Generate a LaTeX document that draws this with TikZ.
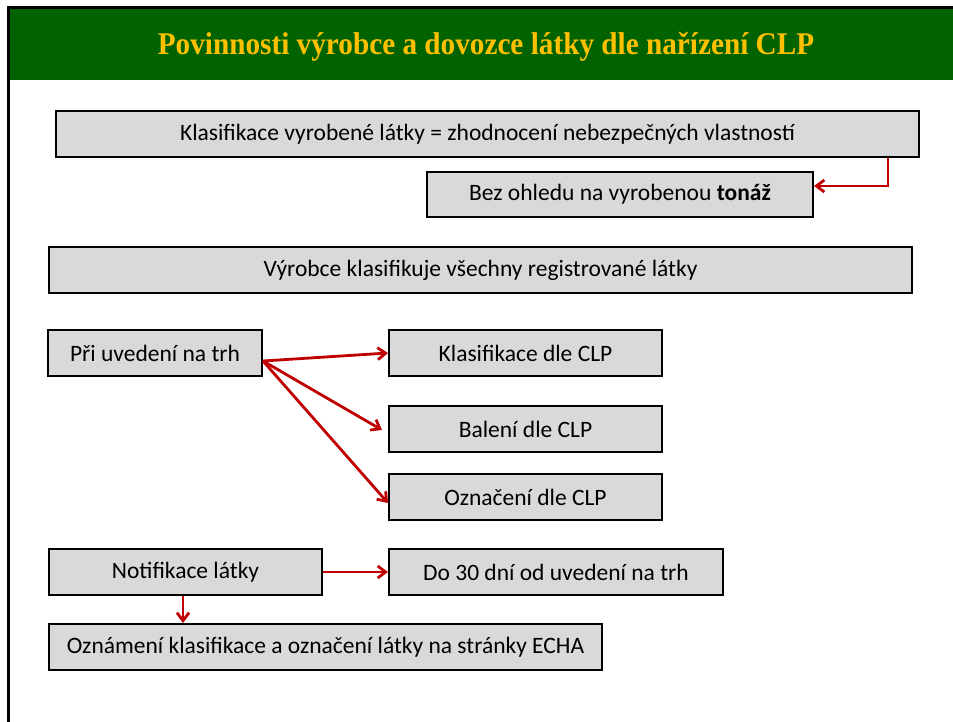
\documentclass[tikz,border=0pt]{standalone}
\usepackage{fontspec}
\setmainfont{Carlito}
\newfontfamily\titlefont{Liberation Serif}
\usetikzlibrary{arrows.meta}
\definecolor{boxgray}{HTML}{D9D9D9}
\definecolor{hdrgreen}{HTML}{006300}
\definecolor{titlegold}{HTML}{FFC000}
\definecolor{arrred}{HTML}{C00000}
\begin{document}
\begin{tikzpicture}[x=1pt,y=-1pt,
  box/.style={draw=black,line width=2pt,fill=boxgray,inner sep=0pt,anchor=north west,
    font=\fontsize{23.5}{28}\selectfont,text=black},
  arr/.style={draw=arrred,line width=2.8pt,-{Straight Barb[length=8pt,width=12pt,line width=2.8pt]}}]
\useasboundingbox (0,0) rectangle (953,722);
\fill[white] (0,0) rectangle (953,722);
\fill[hdrgreen] (8,8) rectangle (953,80);
\draw[black,line width=3pt] (8,722) -- (8,8) -- (953,8);
\node[font=\titlefont\bfseries\fontsize{31.5}{36}\selectfont,text=titlegold,anchor=base,
  xscale=0.928,transform shape] (title) at (486,55) {Povinnosti výrobce a dovozce látky dle nařízení CLP};

\node[box,minimum width=863pt,minimum height=46pt] (b1) at (55,110) {Klasifikace vyrobené látky = zhodnocení nebezpečných vlastností};
\node[box,minimum width=386pt,minimum height=45pt] (b2) at (426,171) {Bez ohledu na vyrobenou \textbf{tonáž}};
\node[box,minimum width=863pt,minimum height=46pt] (b3) at (48,246) {Výrobce klasifikuje všechny registrované látky};
\node[box,minimum width=214pt,minimum height=46pt] (b4) at (47,329) {Při uvedení na trh};
\node[box,minimum width=273pt,minimum height=46pt] (b5) at (388,329) {Klasifikace dle CLP};
\node[box,minimum width=273pt,minimum height=46pt] (b6) at (388,405) {Balení dle CLP};
\node[box,minimum width=273pt,minimum height=46pt] (b7) at (388,473) {Označení dle CLP};
\node[box,minimum width=273pt,minimum height=46pt] (b8) at (48,548) {Notifikace látky};
\node[box,minimum width=334pt,minimum height=46pt] (b9) at (388,548) {Do 30 dní od uvedení na trh};
\node[box,minimum width=553pt,minimum height=46pt] (b10) at (48,623) {Oznámení klasifikace a označení látky na stránky ECHA};

\coordinate (o4) at ([yshift=-8pt]b4.east);
\coordinate (t6) at ([xshift=-6pt,yshift=-1pt]b6.west);
\coordinate (t7) at ([yshift=-6pt]b7.west);
\coordinate (c1) at (888,186);
\draw[arr] (b1.south -| c1) -- (c1) -- (b2.east |- c1);
\draw[arr] (o4) -- (b5.west);
\draw[arr] (o4) -- (t6);
\draw[arr] (o4) -- (t7);
\draw[arr] (b8.east) -- (b9.west);
\coordinate (c8) at (183,0);
\draw[arr] (b8.south -| c8) -- (b10.north -| c8);
\end{tikzpicture}
\end{document}
